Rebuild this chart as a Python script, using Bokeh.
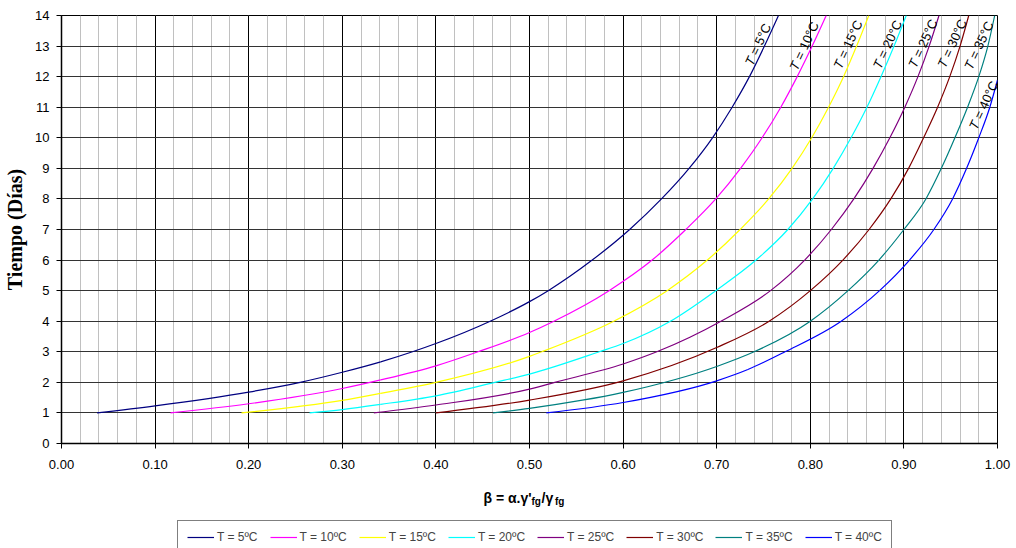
import math
from bokeh.plotting import figure
from bokeh.layouts import column
from bokeh.models import (Legend, LegendItem, Label, FixedTicker,
                          NumeralTickFormatter, Range1d)
from bokeh.embed import file_html
from bokeh.resources import INLINE
from bokeh.core.properties import value

# ---------------- data ----------------
series_names = ["T = 5ºC", "T = 10ºC", "T = 15ºC", "T = 20ºC",
                "T = 25ºC", "T = 30ºC", "T = 35ºC", "T = 40ºC"]

beta_5 = [0.038, 0.10, 0.20, 0.255, 0.30, 0.341, 0.375, 0.40, 0.458, 0.50,
          0.520, 0.567, 0.607, 0.641, 0.6705, 0.6955, 0.7165, 0.735, 0.751, 0.766]
dias_5 = [1.0, 1.23, 1.68, 2.0, 2.33, 2.67, 3.0, 3.27, 4.0, 4.64,
          5.0, 6.0, 7.0, 8.0, 9.0, 10.0, 11.0, 12.0, 13.0, 14.0]

beta_10 = [0.1165, 0.20, 0.30, 0.341, 0.40, 0.445, 0.50, 0.526, 0.585, 0.631,
           0.667, 0.699, 0.7255, 0.7485, 0.7685, 0.786, 0.802, 0.817]
dias_10 = [1.0, 1.30, 1.80, 2.08, 2.54, 3.0, 3.63, 4.0, 5.0, 6.0,
           7.0, 8.0, 9.0, 10.0, 11.0, 12.0, 13.0, 14.0]

beta_15 = [0.1923, 0.30, 0.341, 0.40, 0.50, 0.513, 0.590, 0.647, 0.690, 0.725,
           0.7555, 0.7805, 0.8015, 0.8195, 0.8355, 0.8495, 0.8625]
dias_15 = [1.0, 1.41, 1.64, 2.0, 2.85, 3.0, 4.0, 5.0, 6.0, 7.0,
           8.0, 9.0, 10.0, 11.0, 12.0, 13.0, 14.0]

beta_20 = [0.265, 0.30, 0.341, 0.40, 0.463, 0.50, 0.5745, 0.60, 0.6505, 0.699,
           0.742, 0.776, 0.8025, 0.8245, 0.8435, 0.8605, 0.8755, 0.8895, 0.9025]
dias_20 = [1.0, 1.11, 1.28, 1.56, 2.0, 2.27, 3.0, 3.27, 4.0, 5.0,
           6.0, 7.0, 8.0, 9.0, 10.0, 11.0, 12.0, 13.0, 14.0]

beta_25 = [0.3337, 0.40, 0.50, 0.527, 0.60, 0.636, 0.7045, 0.7575, 0.794,
           0.8225, 0.8465, 0.867, 0.885, 0.901, 0.915, 0.927, 0.9375]
dias_25 = [1.0, 1.26, 1.78, 2.0, 2.6, 3.0, 4.0, 5.0, 6.0,
           7.0, 8.0, 9.0, 10.0, 11.0, 12.0, 13.0, 14.0]

beta_30 = [0.40, 0.50, 0.60, 0.70, 0.756, 0.80, 0.8348, 0.8628, 0.886,
           0.905, 0.921, 0.936, 0.949, 0.960, 0.9693]
dias_30 = [1.0, 1.42, 2.05, 3.14, 4.0, 5.0, 6.0, 7.0, 8.0,
           9.0, 10.0, 11.0, 12.0, 13.0, 14.0]

beta_35 = [0.461, 0.50, 0.60, 0.70, 0.740, 0.80, 0.8403, 0.8733, 0.90,
           0.9235, 0.940, 0.9545, 0.968, 0.980, 0.9897, 0.997]
dias_35 = [1.0, 1.15, 1.67, 2.52, 3.0, 4.0, 5.0, 6.0, 7.0,
           8.0, 9.0, 10.0, 11.0, 12.0, 13.0, 14.0]

beta_40 = [0.518, 0.60, 0.70, 0.7333, 0.773, 0.833, 0.874, 0.906, 0.932,
           0.952, 0.967, 0.980, 0.9918, 1.0]
dias_40 = [1.0, 1.34, 2.05, 2.42, 3.0, 4.0, 5.0, 6.0, 7.0,
           8.0, 9.0, 10.0, 11.0, 11.89]

x_ticks = [0.0, 0.1, 0.2, 0.3, 0.4, 0.5, 0.6, 0.7, 0.8, 0.9, 1.0]
y_ticks = [0, 1, 2, 3, 4, 5, 6, 7, 8, 9, 10, 11, 12, 13, 14]

curve_label_values = ["= 5°C", "= 10°C", "= 15°C", "= 20°C",
                      "= 25°C", "= 30°C", "= 35°C", "= 40°C"]

# ---------------- styling ----------------
colors = ["#000080", "#FF00FF", "#FFFF00", "#00FFFF",
          "#800080", "#800000", "#008080", "#0000FF"]
curves = [(beta_5, dias_5), (beta_10, dias_10), (beta_15, dias_15),
          (beta_20, dias_20), (beta_25, dias_25), (beta_30, dias_30),
          (beta_35, dias_35), (beta_40, dias_40)]

SANS = "Liberation Sans"

p = figure(width=1016, height=475, output_backend="svg", toolbar_location=None,
           x_range=Range1d(0, 1), y_range=Range1d(0, 14),
           min_border_left=61, min_border_right=19,
           min_border_top=15, min_border_bottom=32)
p.background_fill_color = "white"
p.border_fill_color = "white"
p.outline_line_color = "black"
p.outline_line_width = 1

# axes
minor_x = [i / 50 for i in range(51)]
p.xaxis.ticker = FixedTicker(ticks=x_ticks, minor_ticks=minor_x)
p.yaxis.ticker = FixedTicker(ticks=y_ticks)
p.xaxis.formatter = NumeralTickFormatter(format="0.00")
for ax in (p.xaxis[0], p.yaxis[0]):
    ax.axis_line_color = "black"
    ax.axis_line_width = 1.5
    ax.major_tick_line_color = "black"
    ax.major_tick_out = 5
    ax.major_tick_in = 0
    ax.minor_tick_line_color = None
    ax.major_label_text_font = SANS
    ax.major_label_text_font_size = "13px"
    ax.major_label_text_color = "black"
p.xaxis.major_label_standoff = 11
p.yaxis.major_label_standoff = 7
p.xaxis.axis_label = None
p.yaxis.axis_label = "Tiempo (Días)"
p.yaxis.axis_label_text_font = "Liberation Serif"
p.yaxis.axis_label_text_font_style = "bold"
p.yaxis.axis_label_text_font_size = "20px"
p.yaxis.axis_label_text_color = "black"
p.yaxis.axis_label_standoff = 6

# grids
p.xgrid.grid_line_color = "black"
p.xgrid.grid_line_width = 1
p.xgrid.minor_grid_line_color = "#c0c0c0"
p.xgrid.minor_grid_line_width = 1
p.ygrid.grid_line_color = "#333333"
p.ygrid.grid_line_width = 1


# smoothed curves: cubic Hermite segments in x, drawn as Bezier glyphs
def smooth_segments(xs, ys):
    n = len(xs)
    h = [xs[i + 1] - xs[i] for i in range(n - 1)]
    d = [(ys[i + 1] - ys[i]) / h[i] for i in range(n - 1)]
    m = [0.0] * n
    for i in range(1, n - 1):
        m[i] = (h[i] * d[i - 1] + h[i - 1] * d[i]) / (h[i - 1] + h[i])
    m[0] = max((3 * d[0] - m[1]) / 2, 0.0)
    m[-1] = (3 * d[-1] - m[-2]) / 2
    seg = dict(x0=[], y0=[], x1=[], y1=[], cx0=[], cy0=[], cx1=[], cy1=[])
    for i in range(n - 1):
        seg["x0"].append(xs[i]); seg["y0"].append(ys[i])
        seg["x1"].append(xs[i + 1]); seg["y1"].append(ys[i + 1])
        seg["cx0"].append(xs[i] + h[i] / 3); seg["cy0"].append(ys[i] + m[i] * h[i] / 3)
        seg["cx1"].append(xs[i + 1] - h[i] / 3); seg["cy1"].append(ys[i + 1] - m[i + 1] * h[i] / 3)
    return seg


for (bx, dy), c in zip(curves, colors):
    p.bezier(line_color=c, line_width=1.2, **smooth_segments(bx, dy))

# curve labels (annotation anchors in data units), italic "T" + upright rest
lab_x = [0.7441, 0.7935, 0.8403, 0.8825, 0.9203, 0.9516, 0.9801, 0.9853]
lab_y = [13.05, 13.0, 13.05, 13.05, 13.08, 13.08, 13.02, 11.06]
ANG = 65
FS = 13
cw = {"T": 0.611, " ": 0.278, "=": 0.584, "°": 0.4, "C": 0.722}
w_T = (cw["T"] + cw[" "]) * FS
ca, sa = math.cos(math.radians(ANG)), math.sin(math.radians(ANG))
xo_T, yo_T, xo_R, yo_R = [], [], [], []
for s in curve_label_values:
    L = w_T + sum(cw.get(ch, 0.556) for ch in s) * FS
    xo_T.append(-L / 2 * ca); yo_T.append(L / 2 * sa)
    xo_R.append((-L / 2 + w_T) * ca); yo_R.append((L / 2 - w_T) * sa)

p.text(x=lab_x, y=lab_y, text=["T"] * len(lab_x), x_offset=xo_T, y_offset=yo_T,
       angle=ANG, angle_units="deg", text_align="left", text_baseline="middle",
       text_font=value(SANS), text_font_style="italic",
       text_font_size=f"{FS}px", text_color="black")
p.text(x=lab_x, y=lab_y, text=curve_label_values, x_offset=xo_R, y_offset=yo_R,
       angle=ANG, angle_units="deg", text_align="left", text_baseline="middle",
       text_font=value(SANS), text_font_size=f"{FS}px", text_color="black")

# ---------------- bottom strip: x-axis title and legend ----------------
# the strip's frame is aligned with the main frame (page x 61..997)
p2 = figure(width=1016, height=73, output_backend="svg", toolbar_location=None,
            x_range=Range1d(61, 997), y_range=Range1d(0, 73),
            x_axis_type=None, y_axis_type=None,
            min_border_left=61, min_border_right=19,
            min_border_top=0, min_border_bottom=0)
p2.outline_line_color = None
p2.background_fill_color = "white"
p2.border_fill_color = "white"
p2.grid.visible = False


def xlabel(txt, x, y, size):
    p2.add_layout(Label(x=x, y=y, text=txt,
                        text_font=SANS, text_font_style="bold",
                        text_font_size=size, text_color="black",
                        text_align="left", text_baseline="alphabetic"))


xlabel("β = α.γ'", 483, 51, "14px")
xlabel("fg", 531.0, 47, "10px")
xlabel("/γ", 541.0, 51, "14px")
xlabel("fg", 554.5, 47, "10px")

# legend proxies: single-point lines (draw nothing themselves)
proxies = [p2.line(x=[bx[0]], y=[dy[0]], line_color=c, line_width=1.2)
           for (bx, dy), c in zip(curves, colors)]
items = [LegendItem(label=n, renderers=[r]) for n, r in zip(series_names, proxies)]
legend = Legend(items=items, orientation="horizontal", location=(116, -6),
                label_text_font=SANS, label_text_font_size="12px",
                label_standoff=3, glyph_width=27, glyph_height=14,
                label_height=14, spacing=12, padding=9, margin=0,
                border_line_color="black", border_line_width=1,
                background_fill_color="white", background_fill_alpha=1)
p2.add_layout(legend)

layout = column(p, p2, spacing=0)
open("out.html", "w").write(file_html(layout, INLINE))
